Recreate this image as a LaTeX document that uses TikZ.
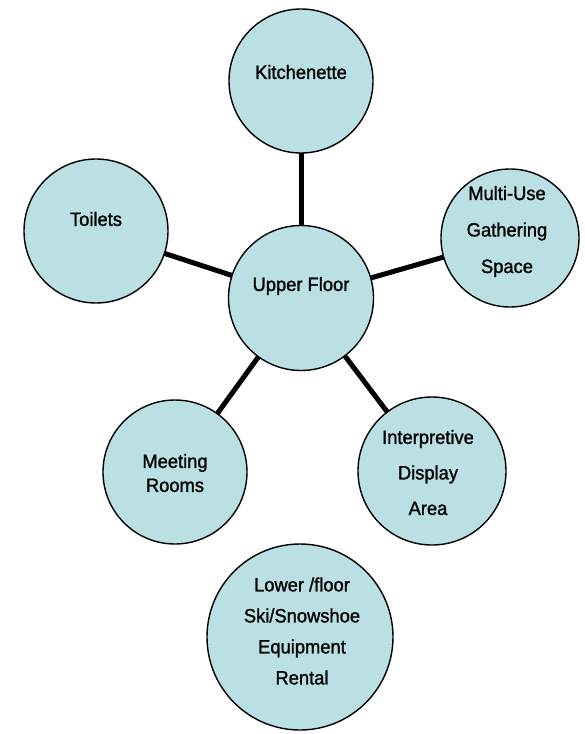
\documentclass[tikz,border=0pt]{standalone}
\usepackage{fontspec}
\setmainfont[FakeStretch=0.95,FakeBold=1.2]{Liberation Sans}
\definecolor{bubblefill}{RGB}{186,224,228}
\begin{document}
\begin{tikzpicture}[x=1pt,y=-1pt,
  bubble/.style={circle,draw=black,line width=1.4pt,fill=bubblefill,inner sep=0pt,outer sep=0pt,minimum size=#1},
  txt/.style={inner sep=0pt,align=center,font=\fontsize{19.3}{#1}\selectfont},
  txt/.default={22},
  link/.style={line width=5pt}]
\useasboundingbox (0,0) rectangle (584,734);
% circles
\node[bubble=145pt] (upper) at (301,298) {};
\node[bubble=144pt] (kit) at (301,81) {};
\node[bubble=144pt] (toil) at (96,231) {};
\node[bubble=138pt] (multi) at (510,238) {};
\node[bubble=144pt] (meet) at (175,472) {};
\node[bubble=148pt] (interp) at (432,471) {};
\node[bubble=186pt] (lower) at (300,637) {};
% connectors
\draw[link] (kit) -- (upper);
\draw[link] (toil) -- (upper);
\draw[link] (multi) -- (upper);
\draw[link] (meet) -- (upper);
\draw[link] (interp) -- (upper);
% texts
\node[txt] (tkit) at (301,72) {Kitchenette};
\node[txt] (ttoil) at (96,219) {Toilets};
\node[txt=36.5] (tmulti) at (507,231.5) {Multi-Use\\Gathering\\Space};
\node[txt] (tupper) at (301,286) {Upper Floor};
\node[txt=24] (tmeet) at (175,473) {Meeting\\Rooms};
\node[txt=35.5] (tinterp) at (428,472.5) {Interpretive\\Display\\Area};
\node[txt=31] (tlower) at (302,631) {Lower /floor\\Ski/Snowshoe\\Equipment\\Rental};
\end{tikzpicture}
\end{document}
